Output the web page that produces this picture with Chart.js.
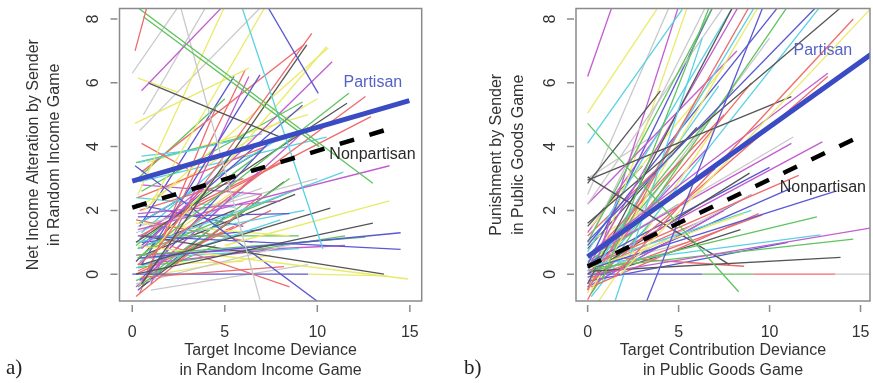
<!DOCTYPE html>
<html>
<head>
<meta charset="utf-8">
<script src="https://cdn.jsdelivr.net/npm/chart.js@4/dist/chart.umd.min.js"></script>
<style>
  body { margin: 0; background: #fff; }
  #page { position: relative; width: 873px; height: 383px; overflow: hidden; }
  .panel { position: absolute; top: 0; height: 383px; }
  .tag { position: absolute; font-family: "Liberation Serif", "DejaVu Serif", serif; font-size: 21px; color: #222; }
</style>
</head>
<body>
<div id="page">
  <div class="panel" style="left:0;width:440px"><canvas id="left"></canvas></div>
  <div class="panel" style="left:440px;width:433px"><canvas id="right"></canvas></div>
  <div class="tag" style="left:6px;top:355px">a)</div>
  <div class="tag" style="left:464px;top:355px">b)</div>
</div>
<script>
// tick labels
const xTicks = [0, 5, 10, 15];
const yTicks = [0, 2, 4, 6, 8];

// summary lines: Partisan, Nonpartisan
const seriesNames = ['Partisan', 'Nonpartisan'];
const leftPartisan = [[0, 2.92], [14.97, 5.44]];
const leftNonpartisan = [[0, 2.09], [14.4, 4.65]];
const rightPartisan = [[0, 0.55], [15.6, 6.9]];
const rightNonpartisan = [[0, 0.24], [15.14, 4.37]];
const leftLabelAt = [[13.0, 6.0], [12.98, 3.74]];
const rightLabelAt = [[12.93, 7.0], [12.93, 2.7]];

// colour order: black, red, green, blue, cyan, magenta, yellow, gray
const palette = ['#555555', '#ef6b6b', '#5fc35f', '#5a58d2', '#58d2e2', '#c35ccf', '#eaea6a', '#c9c9c9'];

// per-subject lines, panel a (start point, end point, colour index)
const leftFrom = [
  [0.15, 7.0], [0.2, 8.4], [0.6, 8.07], [0.5, 5.75], [0.85, 6.0], [7.2, 8.5], [5.85, 8.5], [0, 6.3],
  [2.6, 8.4], [0.15, 4.73], [0.3, 2.5], [1.0, 2.2], [0.3, 6.15], [0.5, 4.1], [1.0, 0.5], [0.5, -0.3],
  [1.5, 1.0], [0.5, 0.8], [0.3, 0.5], [0.2, 1.0], [0.3, 0.3], [0.4, 1.2], [0.3, 1.4], [5.0, 0.9],
  [0.5, 0.3], [0.2, 0.0], [0.3, 0.5], [0.3, 1.2], [0.3, 0.6], [0.5, 1.2], [0.3, 0.9], [0.15, 3.4],
  [2.0, 0.9], [0.5, -0.1], [0, 0], [9.5, 0], [0.3, 0.8], [0.8, 0.1], [0.5, 0.3], [1.0, -0.3],
  [0.6, 2.0], [0.5, 3.7], [0.3, 3.5], [0.2, 3.5], [0.4, 4.5], [0.6, 5.0], [1.0, 0.8], [0.2, -0.7],
  [0.3, -0.4], [0.4, -0.2], [0.2, 0.2], [0.3, 1.9], [0.2, 1.6], [0.2, -0.3], [0.5, -0.4], [0.3, 2.4],
  [0.4, 1.2], [0.3, 1.8], [0.2, 1.0], [0.3, 0.3], [0.4, -0.1], [0.5, 2.6], [0.5, 3.2], [0.5, 0.9],
  [0.4, 1.6], [0.5, -0.2], [0.3, 2.1], [0.6, 0.6], [0.2, 0.0], [0.3, 0.2], [0.2, 2.2], [0.6, 0.5],
  [0.2, 0.6], [1.0, -0.5], [0.3, 3.0], [0.4, -0.6], [0.4, 1.5], [0.8, 3.5], [0.6, -0.2], [0.5, 1.3],
  [0.5, 2.8], [0.2, 1.7], [0.4, 1.6], [0.4, 2.9], [0.3, 1.5], [0.3, 0.1], [0.2, 0.9], [0.3, -0.5],
  [0.4, 0.4], [0.2, -0.4], [0.5, 0.6], [0.3, 0.8], [0.2, 1.3], [0.4, 2.0], [0.2, -0.2], [0.5, 1.0],
  [0.2, 2.4], [0.4, 1.1], [0.3, 0.3], [0.2, 0.4], [0.6, 1.4]
];
const leftTo = [
  [0.85, 8.5], [13.0, 2.85], [10.1, 4.0], [4.9, 8.4], [8.0, 4.3], [10.05, 5.67], [10.3, 0.8], [2.5, 8.4],
  [6.9, -0.8], [6.3, 6.46], [5.0, 8.4], [7.2, 8.4], [2.5, 5.7], [3.0, 3.3], [9.7, 7.55], [9.43, 7.19],
  [10.5, 7.13], [10.8, 6.66], [11.7, 5.67], [11.6, 5.36], [12.6, 5.57], [12.9, 4.94], [13.9, 3.4], [13.9, 2.3],
  [10.7, 2.07], [13.0, 1.6], [14.5, 1.3], [14.5, 0.78], [12.6, 1.16], [13.6, 0.0], [14.9, -0.15], [10.0, -0.85],
  [8.5, -0.4], [8.2, 0.24], [9.5, 0], [13.8, -0.05], [11.4, 3.2], [6.1, 6.4], [6.9, 6.25], [6.3, 6.2],
  [10.6, 7.1], [3.5, 3.9], [7.0, 4.4], [6.0, 4.3], [7.0, 8.4], [4.0, 8.4], [9.5, 2.8], [7.0, 2.5],
  [8.5, 3.0], [7.5, 4.2], [8.0, 1.7], [8.0, 2.3], [8.5, 1.2], [9.0, 1.0], [8.2, 2.9], [7.2, 4.0],
  [9.0, 1.2], [8.5, 1.9], [9.3, 2.0], [8.0, 0.8], [7.5, 0.6], [9.2, 5.4], [9.3, 7.2], [9.2, 5.3],
  [7.8, 4.2], [9.5, 4.6], [10.0, 5.5], [8.8, 2.5], [7.5, 2.0], [11.5, 1.2], [6.0, 1.5], [9.0, 0.8],
  [11.5, 0.9], [9.5, 0.3], [5.0, 5.5], [4.5, 5.2], [5.5, 6.2], [9.5, 5.0], [6.0, 2.2], [5.5, 3.8],
  [7.0, 2.5], [6.5, 1.0], [7.0, 3.9], [10.5, 4.3], [10.0, 3.0], [5.5, 1.5], [6.5, 3.6], [5.0, 1.8],
  [6.0, 2.6], [6.8, 3.2], [7.5, 3.4], [5.5, 2.0], [7.0, 2.7], [6.0, 3.0], [4.5, 0.9], [7.0, 1.4],
  [5.5, 2.1], [5.0, 3.3], [6.0, 0.4], [4.0, 2.6], [8.0, 3.5]
];
const leftCol = [
  1, 2, 2, 5, 0, 3, 4, 7,
  7, 6, 6, 6, 6, 1, 1, 0,
  6, 5, 2, 0, 1, 1, 5, 6,
  0, 0, 3, 3, 2, 0, 6, 3,
  1, 1, 3, 6, 4, 1, 3, 5,
  6, 4, 4, 2, 7, 7, 2, 1,
  2, 3, 4, 5, 6, 7, 0, 1,
  2, 3, 4, 5, 6, 2, 1, 3,
  4, 5, 6, 0, 1, 2, 3, 4,
  5, 7, 2, 1, 3, 6, 2, 4,
  5, 1, 0, 4, 7, 1, 2, 3,
  4, 5, 6, 0, 7, 1, 2, 3,
  4, 5, 6, 0, 1
];

// per-subject lines, panel b
const rightFrom = [
  [0, 6.2], [0, 5.05], [0, 4.1], [0.8, -0.2], [0, 2.85], [0, 4.73], [3.24, -0.85], [0, 1.03],
  [0, 1.6], [1.5, -0.05], [1.8, 0], [0.3, 0.75], [0, 2.95], [0.4, 0.0], [0.3, 0.2], [0.3, 0.1],
  [0, 0], [6.3, 0], [9.1, 0], [13.6, 0], [0.3, 0.2], [0.2, 0.1], [0.3, 0.3], [0.3, 0.3],
  [2.0, 0.5], [0.2, 0.2], [0.2, -0.1], [0, 3.05], [1.5, -0.85], [0, -0.3], [0, 0.2], [0, -0.5],
  [0.2, -0.5], [0, 1.0], [0, 2.2], [0, 2.5], [0.3, 0], [0, 0.9], [0, 2.2], [0.3, -0.2],
  [0.2, 0.6], [0, 0.5], [0.3, 0.3], [0, 0.0], [0.2, 0.4], [0, 0.3], [0, -0.2], [0.3, -0.3],
  [0.2, -0.4], [0.3, -0.1], [0.2, -0.2], [0, 0.7], [0, -0.6], [0, -0.5], [0, 1.0], [0, 0.3],
  [0.2, -0.7], [0.2, -0.6], [0.2, 1.5], [0.2, 0.6], [0.3, 0.3], [0, 1.5], [0, 1.3], [0, 3.0],
  [0, -0.4], [0, -0.8], [0.6, -0.85], [0, -0.3], [0, 0.2], [0, 0.1], [0.3, 0.0], [0, -0.1],
  [0, 0.4], [0, 0.1], [0, 0.6], [0, -0.3], [0, 0.0], [0, 1.0], [0, 0.8], [0, 0.2],
  [0, 1.2], [0, -0.4]
];
const rightTo = [
  [1.35, 8.4], [3.8, 8.3], [5.2, 8.3], [6.7, 8.4], [4.0, 5.75], [8.3, -0.55], [9.65, 8.4], [12.5, 8.34],
  [14.0, 8.4], [14.6, 8.0], [15.6, 8.35], [13.2, 6.3], [11.2, 5.57], [15.6, 1.45], [14.6, 1.1], [13.9, 0.53],
  [6.3, 0], [9.1, 0], [13.6, 0], [15.6, 0], [13.6, 2.6], [12.6, 1.8], [11.6, 3.1], [12.8, 1.23],
  [8.6, 0.25], [8.6, 1.9], [9.6, 1.86], [7.8, 0.3], [6.3, 7.4], [8.0, 8.4], [8.3, 8.4], [8.9, 8.4],
  [9.4, 8.4], [6.9, 8.4], [7.5, 8.4], [4.5, 8.4], [9.2, 8.4], [10.5, 8.4], [8.2, 7.0], [13.2, 6.2],
  [11.2, 4.1], [11.3, 4.3], [12.9, 4.15], [8.9, 3.17], [10.0, 3.35], [9.0, 2.0], [9.0, 2.5], [7.5, 2.0],
  [9.4, 1.9], [8.4, 1.4], [11.0, 1.0], [8.0, 8.4], [5.5, 8.4], [5.0, 8.4], [6.5, 8.4], [6.9, 8.4],
  [12.8, 8.4], [11.0, 8.4], [7.5, 6.5], [7.5, 5.0], [5.5, 3.8], [3.0, 3.4], [4.0, 4.5], [3.5, 4.3],
  [9.0, 2.5], [6.0, 5.5], [7.0, 4.6], [10.0, 7.4], [8.0, 5.8], [7.2, 5.9], [9.0, 6.0], [11.2, 2.7],
  [5.0, 2.2], [6.0, 1.6], [7.0, 3.3], [4.5, 2.8], [6.5, 3.9], [5.0, 2.6], [6.0, 4.6], [5.5, 1.0],
  [4.0, 3.4], [3.5, 1.6]
];
const rightCol = [
  5, 6, 4, 2, 0, 2, 3, 3,
  0, 1, 6, 5, 0, 5, 2, 0,
  3, 2, 1, 7, 3, 2, 1, 4,
  1, 6, 1, 0, 4, 0, 5, 1,
  6, 2, 7, 7, 4, 3, 5, 1,
  5, 7, 5, 0, 3, 4, 7, 5,
  1, 0, 3, 4, 6, 5, 7, 3,
  4, 2, 6, 1, 2, 0, 5, 7,
  3, 1, 6, 7, 2, 4, 1, 3,
  2, 1, 3, 4, 5, 6, 0, 7,
  1, 2
];

const textColour = '#333333';
const partisanColour = '#3a4bc3';
Chart.defaults.font.family = '"Liberation Sans", Arial, Helvetica, sans-serif';
Chart.defaults.font.size = 16;
Chart.defaults.color = textColour;

const toPts = (pair) => pair.map(p => ({ x: p[0], y: p[1] }));

function buildDatasets(from, to, cols, partisan, nonpartisan) {
    const sets = [
        { data: toPts(partisan), borderColor: partisanColour, borderWidth: 5, borderCapStyle: 'butt' },
        { data: toPts(nonpartisan), borderColor: '#000000', borderWidth: 4.5, borderDash: [15, 16], borderCapStyle: 'butt' }
    ];
    from.forEach((p, i) => {
        sets.push({ data: toPts([p, to[i]]), borderColor: palette[cols[i]], borderWidth: 1.3 });
    });
    sets.forEach(s => { s.showLine = true; s.pointRadius = 0; s.clip = 0; s.fill = false; });
    return sets;
}

// R style frame: box, outside tick marks and the two curve labels
const rFrame = {
    id: 'rFrame',
    afterDatasetsDraw(chart, args, opts) {
        const { ctx, chartArea: a, scales: { x, y } } = chart;
        ctx.save();
        ctx.strokeStyle = '#8a8a8a';
        ctx.lineWidth = 1.5;
        ctx.strokeRect(a.left, a.top, a.right - a.left, a.bottom - a.top);
        ctx.beginPath();
        x.ticks.forEach(t => {
            const px = x.getPixelForValue(t.value);
            ctx.moveTo(px, a.bottom + 4); ctx.lineTo(px, a.bottom + 11);
        });
        y.ticks.forEach(t => {
            const py = y.getPixelForValue(t.value);
            ctx.moveTo(a.left - 9, py); ctx.lineTo(a.left - 2, py);
        });
        ctx.stroke();
        ctx.font = '16px "Liberation Sans", Arial, sans-serif';
        ctx.textAlign = 'center';
        ctx.textBaseline = 'middle';
        seriesNames.forEach((name, i) => {
            const at = opts.labelAt[i];
            ctx.fillStyle = i === 0 ? '#5562c9' : '#2a2a2a';
            ctx.fillText(name, x.getPixelForValue(at[0]), y.getPixelForValue(at[1]));
        });
        ctx.restore();
    }
};

function makeChart(id, cfg) {
    new Chart(document.getElementById(id), {
        type: 'scatter',
        data: { datasets: buildDatasets(cfg.from, cfg.to, cfg.cols, cfg.partisan, cfg.nonpartisan) },
        plugins: [rFrame],
        options: {
            responsive: true,
            maintainAspectRatio: false,
            animation: false,
            events: [],
            layout: { padding: { top: 8.5, right: cfg.padRight, left: 0, bottom: 0 } },
            plugins: {
                legend: { display: false },
                tooltip: { enabled: false },
                rFrame: { labelAt: cfg.labelAt }
            },
            scales: {
                x: {
                    type: 'linear',
                    min: cfg.xMin, max: cfg.xMax,
                    afterBuildTicks: s => { s.ticks = xTicks.map(v => ({ value: v })); },
                    afterFit: s => { s.height = 82; s.paddingLeft = 0; s.paddingRight = 0; },
                    grid: { display: false },
                    border: { display: false },
                    ticks: { padding: 14, color: textColour, maxRotation: 0 },
                    title: {
                        display: true, text: cfg.xTitle, color: textColour,
                        font: { size: 16, lineHeight: 1.25 },
                        padding: { top: 0, bottom: 2.5 }
                    }
                },
                y: {
                    type: 'linear',
                    min: -0.84, max: 8.33,
                    afterBuildTicks: s => { s.ticks = yTicks.map(v => ({ value: v })); },
                    afterFit: s => { s.width = cfg.yWidth; s.paddingTop = 0; s.paddingBottom = 0; },
                    grid: { display: false },
                    border: { display: false },
                    ticks: { padding: 13, color: textColour, minRotation: 90, maxRotation: 90, crossAlign: 'center' },
                    title: {
                        display: true, text: cfg.yTitle, color: textColour,
                        font: { size: 16, lineHeight: 1.35 },
                        padding: { top: cfg.yTitlePad, bottom: 0 }
                    }
                }
            }
        }
    });
}

makeChart('left', {
    from: leftFrom, to: leftTo, cols: leftCol,
    partisan: leftPartisan, nonpartisan: leftNonpartisan, labelAt: leftLabelAt,
    xMin: -0.69, xMax: 15.64, yWidth: 119.5, padRight: 18.3, yTitlePad: 22.5,
    xTitle: ['Target Income Deviance', 'in Random Income Game'],
    yTitle: ['Net Income Alteration by Sender', 'in Random Income Game']
});
makeChart('right', {
    from: rightFrom, to: rightTo, cols: rightCol,
    partisan: rightPartisan, nonpartisan: rightNonpartisan, labelAt: rightLabelAt,
    xMin: -0.64, xMax: 15.52, yWidth: 136, padRight: 3, yTitlePad: 46,
    xTitle: ['Target Contribution Deviance', 'in Public Goods Game'],
    yTitle: ['Punishment by Sender', 'in Public Goods Game']
});
</script>
</body>
</html>
